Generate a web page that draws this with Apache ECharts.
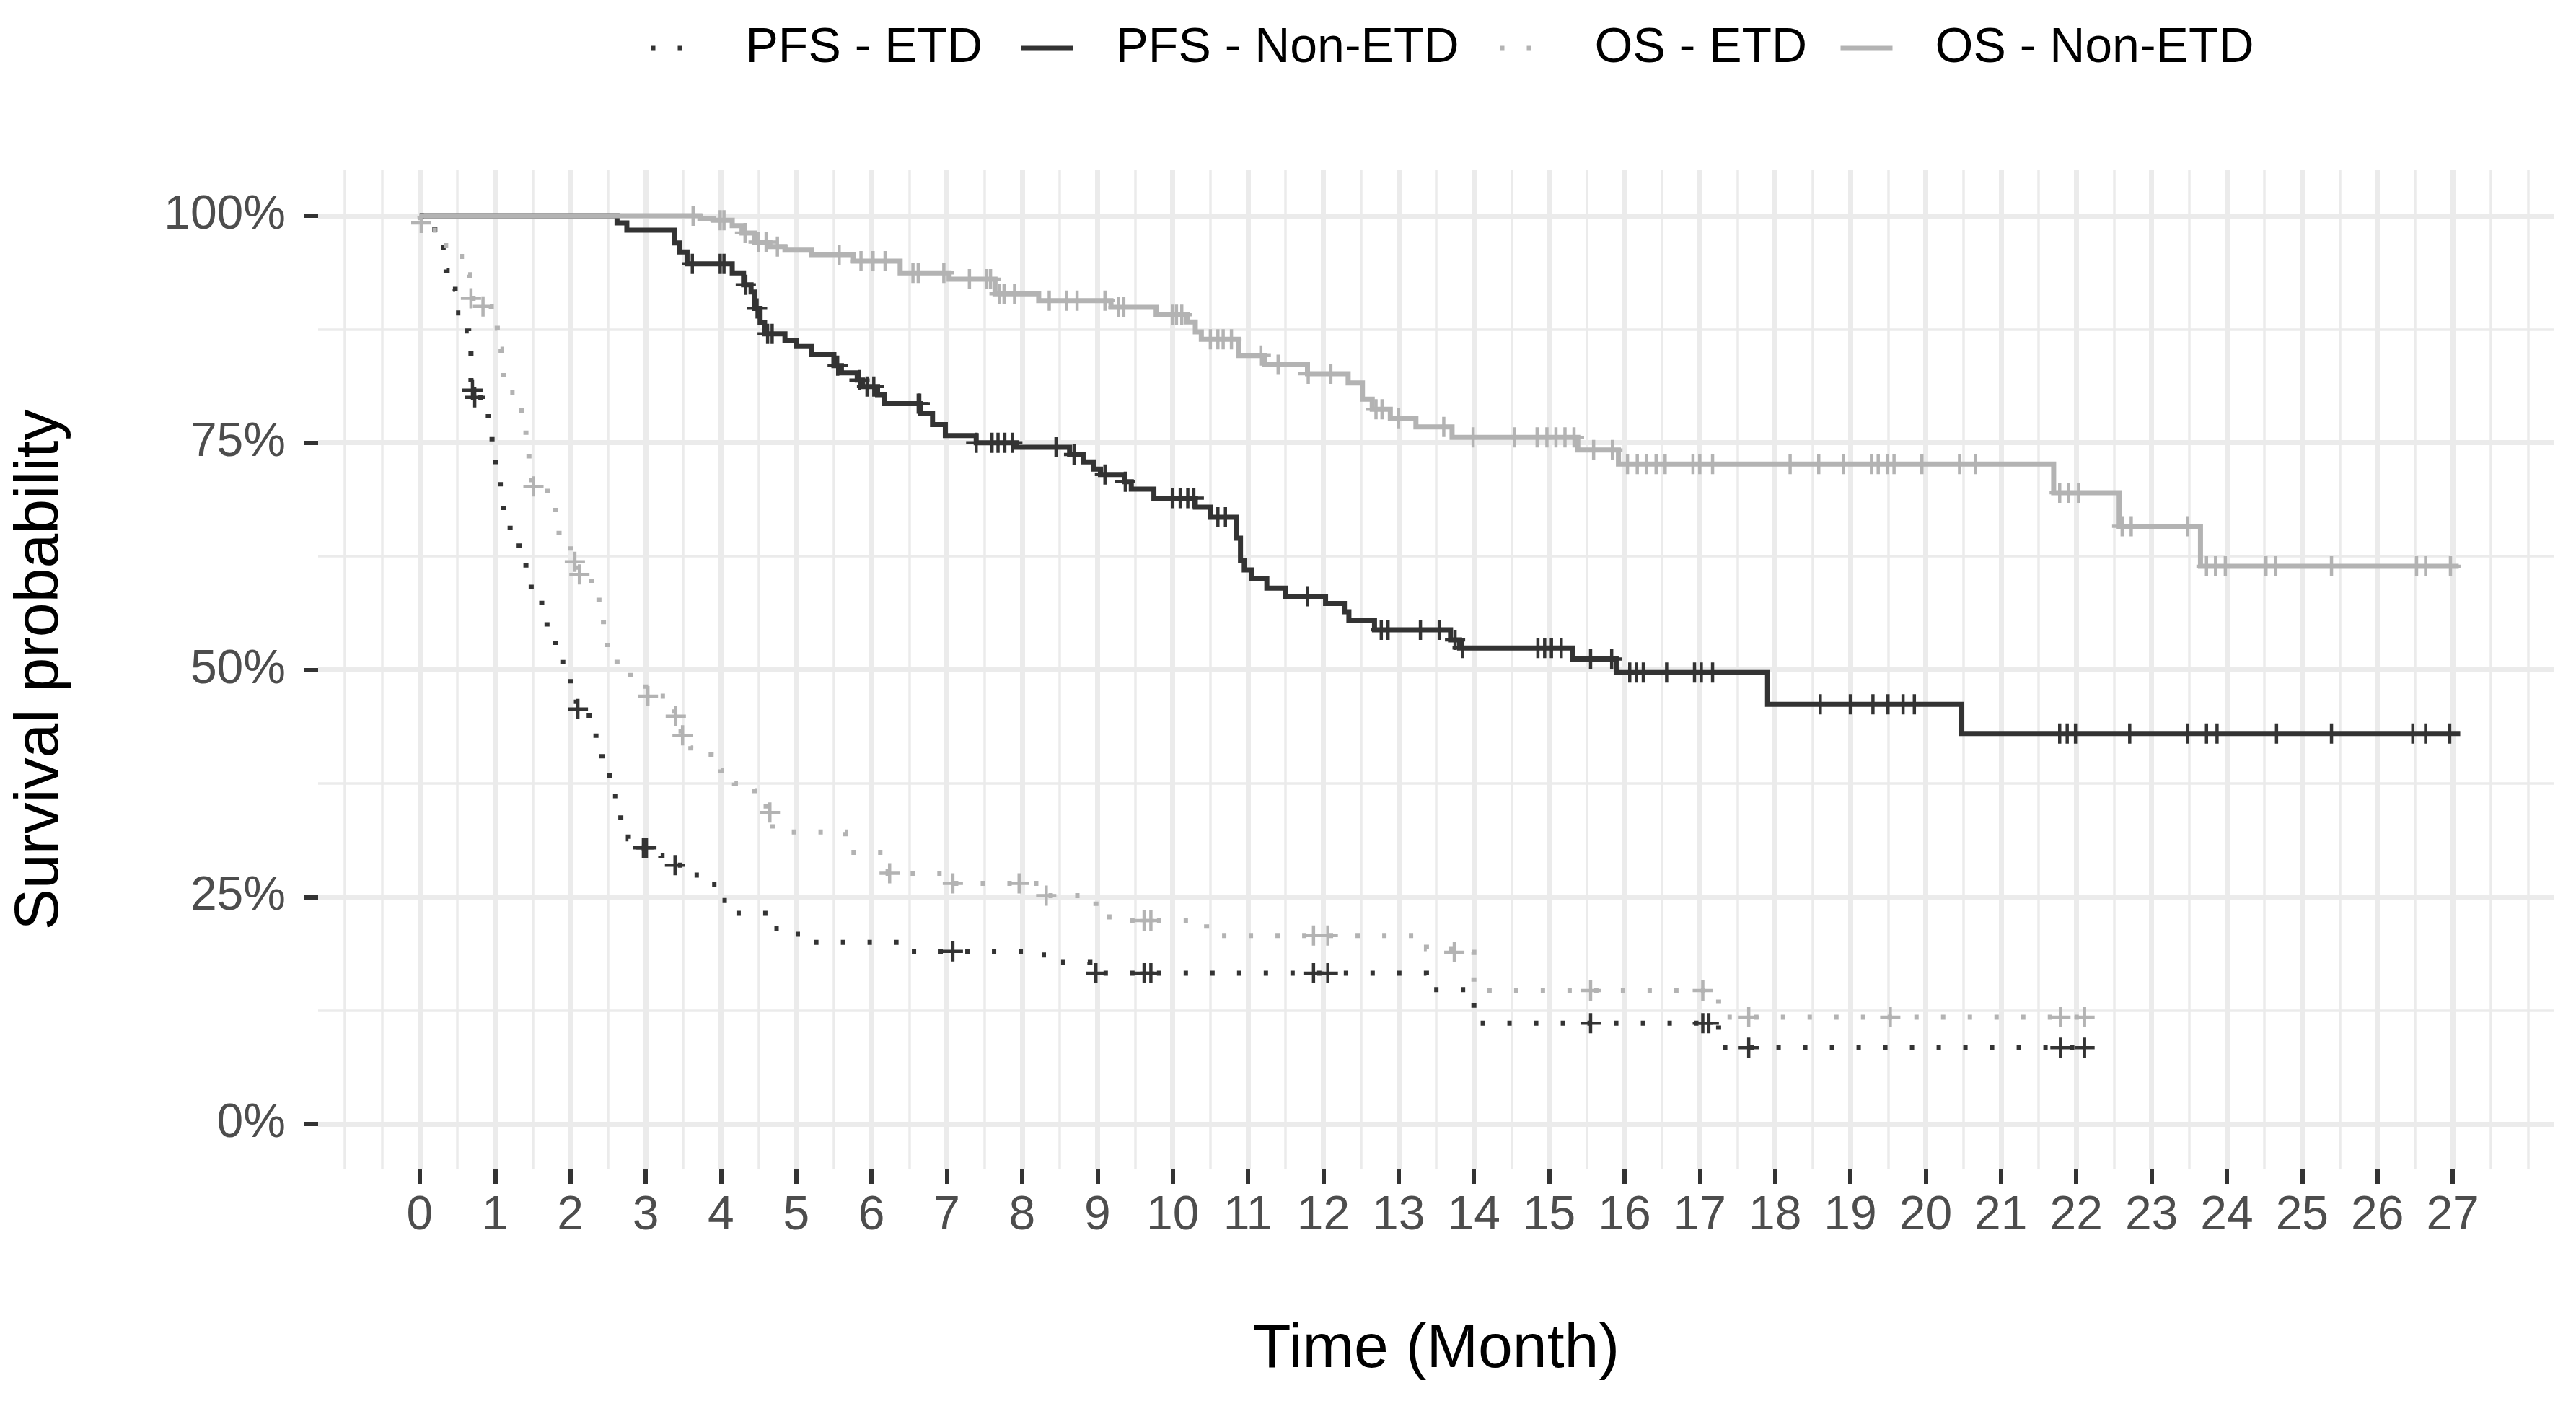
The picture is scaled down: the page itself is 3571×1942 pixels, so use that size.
<!DOCTYPE html>
<html>
<head>
<meta charset="utf-8">
<script src="https://cdn.jsdelivr.net/npm/echarts@6/dist/echarts.min.js"></script>
<style>html,body{margin:0;padding:0;background:#fff}#c{width:3571px;height:1942px}</style>
</head>
<body>
<div id="c"></div>
<script>
// ---------- data (time in months, survival in %) ----------
const seriesNames = ['PFS - ETD', 'PFS - Non-ETD', 'OS - ETD', 'OS - Non-ETD'];

const pfsEtdTime = [0, 0.2, 0.28, 0.35, 0.42, 0.47, 0.56, 0.65, 0.68, 0.71, 0.86, 0.91, 0.96, 1.01, 1.07, 1.11, 1.2, 1.32, 1.41, 1.48, 1.62, 1.69, 1.8, 1.9, 2.0, 2.08, 2.25, 2.34, 2.42, 2.52, 2.6, 2.67, 2.77, 2.9, 3.2, 3.35, 3.6, 3.85, 4.0, 4.15, 4.62, 4.85, 5.15, 6.4, 8.1, 8.35, 8.9, 13.37, 14.0, 17.25, 22.19];
const pfsEtdSurv = [100, 98.2, 96.5, 94.0, 91.9, 89.3, 87.3, 85.3, 80.8, 80.0, 78.3, 76.0, 73.5, 71.0, 68.8, 66.2, 64.2, 62.4, 60.1, 57.8, 56.6, 54.0, 51.9, 50.0, 48.3, 45.7, 44.5, 42.0, 40.0, 38.0, 35.7, 33.4, 31.4, 30.4, 29.5, 28.5, 27.4, 26.4, 24.6, 23.2, 21.5, 20.9, 20.0, 19.0, 18.6, 17.8, 16.6, 14.8, 11.1, 8.4, 8.4];
const pfsEtdCensor = [0.70, 0.73, 2.10, 2.97, 3.01, 3.39, 7.08, 8.98, 9.62, 9.71, 11.87, 12.06, 15.55, 17.04, 17.12, 17.65, 21.79, 22.11];

const pfsNonTime = [0, 2.62, 2.75, 3.38, 3.45, 3.55, 4.15, 4.3, 4.4, 4.45, 4.52, 4.58, 4.85, 5.0, 5.2, 5.5, 5.6, 5.81, 5.88, 6.08, 6.17, 6.65, 6.81, 6.98, 7.39, 7.92, 8.63, 8.81, 8.95, 9.04, 9.36, 9.45, 9.75, 10.3, 10.5, 10.85, 10.9, 10.95, 11.05, 11.25, 11.5, 12.03, 12.28, 12.34, 12.68, 13.69, 13.81, 15.31, 15.89, 17.9, 20.47, 27.1];
const pfsNonSurv = [100, 99.2, 98.4, 97.0, 96.0, 94.7, 93.7, 92.4, 91.6, 89.8, 88.2, 87.0, 86.3, 85.6, 84.7, 83.5, 82.7, 81.9, 81.2, 80.3, 79.3, 78.2, 77.0, 75.8, 75.0, 74.5, 73.7, 72.9, 72.1, 71.5, 70.7, 69.9, 68.9, 67.9, 66.8, 64.5, 62.0, 61.0, 60.0, 59.0, 58.1, 57.3, 56.4, 55.4, 54.4, 53.3, 52.4, 51.2, 49.7, 46.2, 43.0, 43.0];
const pfsNonCensor = [3.62, 3.99, 4.04, 4.33, 4.48, 4.62, 4.68, 5.55, 5.84, 5.94, 6.03, 6.62, 6.64, 7.39, 7.6, 7.68, 7.77, 7.87, 8.45, 8.69, 9.1, 9.37, 10.0, 10.1, 10.2, 10.28, 10.6, 10.7, 11.79, 12.77, 12.86, 13.29, 13.54, 13.75, 13.85, 14.85, 14.94, 15.03, 15.16, 15.55, 15.83, 16.07, 16.16, 16.25, 16.56, 16.93, 17.02, 17.17, 18.6, 19.0, 19.3, 19.5, 19.7, 19.85, 21.78, 21.88, 21.99, 22.71, 23.48, 23.73, 23.87, 24.66, 25.39, 26.47, 26.64, 26.96];

const osEtdTime = [0, 0.01, 0.15, 0.3, 0.5, 0.6, 0.66, 0.8, 0.95, 1.03, 1.08, 1.11, 1.26, 1.35, 1.41, 1.45, 1.49, 1.7, 1.8, 1.85, 2.0, 2.1, 2.28, 2.38, 2.44, 2.49, 2.62, 2.8, 3.0, 3.38, 3.47, 3.6, 3.87, 4.0, 4.18, 4.45, 4.6, 4.69, 5.65, 6.22, 7.05, 8.3, 8.85, 8.98, 9.25, 10.45, 13.37, 13.7, 14.0, 17.25, 22.19];
const osEtdSurv = [100, 99.2, 98.4, 96.7, 95.5, 93.5, 90.9, 90.0, 87.6, 85.3, 83.0, 80.5, 78.9, 76.7, 74.3, 72.0, 70.2, 68.4, 66.3, 63.7, 61.9, 60.5, 58.9, 56.6, 54.4, 51.9, 50.3, 49.0, 47.1, 44.9, 42.8, 41.4, 40.7, 38.9, 37.5, 36.7, 34.3, 32.15, 29.9, 27.6, 26.5, 25.15, 24.6, 22.8, 22.4, 20.75, 19.3, 18.9, 14.7, 11.75, 11.75];
const osEtdCensor = [0.02, 0.68, 0.84, 1.51, 2.06, 2.12, 3.03, 3.40, 3.49, 4.65, 6.24, 7.08, 7.96, 8.32, 9.62, 9.71, 11.87, 12.06, 13.74, 15.55, 17.04, 17.65, 19.53, 21.79, 22.11];

const osNonTime = [0, 3.72, 3.9, 4.15, 4.28, 4.45, 4.65, 4.85, 5.2, 5.76, 6.38, 7.03, 7.64, 8.22, 9.18, 9.78, 10.19, 10.3, 10.38, 10.88, 11.22, 11.79, 12.33, 12.52, 12.65, 12.89, 13.23, 13.71, 15.38, 15.92, 21.7, 22.57, 23.65, 27.08];
const osNonSurv = [100, 99.7, 99.5, 98.9, 98.1, 97.1, 96.6, 96.2, 95.7, 95.0, 93.7, 93.0, 91.4, 90.65, 89.9, 89.1, 88.3, 87.2, 86.4, 84.6, 83.6, 82.6, 81.6, 79.8, 78.7, 77.7, 76.75, 75.6, 74.2, 72.65, 69.5, 65.8, 61.4, 61.4];
const osNonCensor = [3.63, 3.99, 4.04, 4.32, 4.5, 4.6, 4.75, 5.57, 5.86, 6.02, 6.18, 6.55, 6.62, 6.96, 7.30, 7.53, 7.58, 7.7, 7.76, 7.9, 8.36, 8.59, 8.73, 9.1, 9.28, 9.35, 10.0, 10.05, 10.12, 10.5, 10.6, 10.67, 10.78, 11.17, 11.4, 11.8, 12.1, 12.7, 12.78, 13.0, 13.6, 13.99, 14.54, 14.84, 14.97, 15.09, 15.21, 15.33, 15.59, 15.84, 16.04, 16.17, 16.29, 16.42, 16.54, 16.91, 17.0, 17.17, 18.2, 18.58, 18.91, 19.28, 19.37, 19.49, 19.58, 19.95, 20.45, 20.66, 21.78, 21.9, 22.03, 22.61, 22.73, 23.48, 23.73, 23.85, 23.98, 24.52, 24.65, 25.39, 26.52, 26.64, 26.97];

const xTickValues = [0, 1, 2, 3, 4, 5, 6, 7, 8, 9, 10, 11, 12, 13, 14, 15, 16, 17, 18, 19, 20, 21, 22, 23, 24, 25, 26, 27];
const yTickValues = [0, 25, 50, 75, 100];
const yMinorValues = [12.5, 37.5, 62.5, 87.5];
const xMinorValues = [-1, -0.5].concat(xTickValues.map(v => v + 0.5), [28]);

// ---------- helpers ----------
function pairs(ts, ss) { return ts.map((t, i) => [t, ss[i]]); }
function stepValue(ts, ss, t) { let v = ss[0]; for (let i = 0; i < ts.length; i++) { if (ts[i] <= t) v = ss[i]; } return v; }
function censorPts(cs, ts, ss) { return cs.map(t => [t, stepValue(ts, ss, t)]); }

const DARK = '#333333', LIGHT = '#B3B3B3';
const DOT = [6, 31];
const PLUS = 'path://M42,0 L58,0 L58,42 L100,42 L100,58 L58,58 L58,100 L42,100 L42,58 L0,58 L0,42 L42,42 Z';
const FONT = 'Liberation Sans, Arial, sans-serif';
const seriesColors = [DARK, DARK, LIGHT, LIGHT];
const seriesDotted = [true, false, true, false];

function lineSeries(name, ts, ss, color, dotted) {
  return {
    name: name, type: 'line', step: 'end', data: pairs(ts, ss),
    symbol: 'none', showSymbol: false, silent: true,
    lineStyle: { color: color, width: 7, type: dotted ? DOT : 'solid', cap: 'butt', join: 'miter' },
    itemStyle: { color: color }
  };
}
function censorSeries(name, cs, ts, ss, color) {
  return {
    name: name + ' censor', type: 'scatter', data: censorPts(cs, ts, ss),
    symbol: PLUS, symbolSize: 28, silent: true,
    itemStyle: { color: color, opacity: 1 }
  };
}

const legendLefts = [899, 1412, 2076, 2548];
const legends = seriesNames.map((n, i) => ({
  data: [n], left: legendLefts[i], top: 33, orient: 'horizontal',
  itemWidth: 72, itemHeight: 14, padding: 0,
  selectedMode: false,
  itemStyle: { opacity: 0 },
  lineStyle: { color: seriesColors[i], width: 7, type: seriesDotted[i] ? DOT : 'solid', cap: 'butt' },
  textStyle: { fontFamily: FONT, fontSize: 68, color: '#000', padding: [0, 0, 0, 54] }
}));

const chart = echarts.init(document.getElementById('c'), null, { renderer: 'canvas' });
chart.setOption({
  animation: false,
  backgroundColor: '#ffffff',
  legend: legends,
  grid: { left: 441, right: 30, top: 236, bottom: 321, containLabel: false },
  xAxis: [
    {
      type: 'value', min: -1.35, max: 28.35, position: 'bottom',
      axisLine: { show: false, onZero: false },
      axisTick: { show: true, customValues: xTickValues, length: 20, lineStyle: { color: DARK, width: 6 } },
      axisLabel: { customValues: xTickValues, fontFamily: FONT, fontSize: 66, color: '#4D4D4D', margin: 32 },
      splitLine: { show: true, lineStyle: { color: '#EBEBEB', width: 7 } },
      name: 'Time (Month)', nameLocation: 'middle', nameGap: 207,
      nameTextStyle: { fontFamily: FONT, fontSize: 86, color: '#000' }
    },
    {
      type: 'value', min: -1.35, max: 28.35, position: 'top',
      axisLine: { show: false, onZero: false },
      axisTick: { show: false, customValues: xMinorValues },
      axisLabel: { show: false, customValues: xMinorValues },
      splitLine: { show: true, lineStyle: { color: '#EBEBEB', width: 3.5 } }
    }
  ],
  yAxis: [
    {
      type: 'value', min: -5, max: 105, position: 'left',
      axisLine: { show: false, onZero: false },
      axisTick: { show: true, customValues: yTickValues, length: 20, lineStyle: { color: DARK, width: 6 } },
      axisLabel: { customValues: yTickValues, formatter: '{value}%', fontFamily: FONT, fontSize: 66, color: '#4D4D4D', margin: 45 },
      splitLine: { show: true, lineStyle: { color: '#EBEBEB', width: 7 } },
      name: 'Survival probability', nameLocation: 'middle', nameGap: 342,
      nameTextStyle: { fontFamily: FONT, fontSize: 86, color: '#000' }
    },
    {
      type: 'value', min: -5, max: 105, position: 'right',
      axisLine: { show: false, onZero: false },
      axisTick: { show: false, customValues: yMinorValues },
      axisLabel: { show: false, customValues: yMinorValues },
      splitLine: { show: true, lineStyle: { color: '#EBEBEB', width: 3.5 } }
    }
  ],
  series: [
    lineSeries(seriesNames[0], pfsEtdTime, pfsEtdSurv, DARK, true),
    lineSeries(seriesNames[1], pfsNonTime, pfsNonSurv, DARK, false),
    lineSeries(seriesNames[2], osEtdTime, osEtdSurv, LIGHT, true),
    lineSeries(seriesNames[3], osNonTime, osNonSurv, LIGHT, false),
    censorSeries(seriesNames[0], pfsEtdCensor, pfsEtdTime, pfsEtdSurv, DARK),
    censorSeries(seriesNames[1], pfsNonCensor, pfsNonTime, pfsNonSurv, DARK),
    censorSeries(seriesNames[2], osEtdCensor, osEtdTime, osEtdSurv, LIGHT),
    censorSeries(seriesNames[3], osNonCensor, osNonTime, osNonSurv, LIGHT)
  ]
});
</script>
</body>
</html>
